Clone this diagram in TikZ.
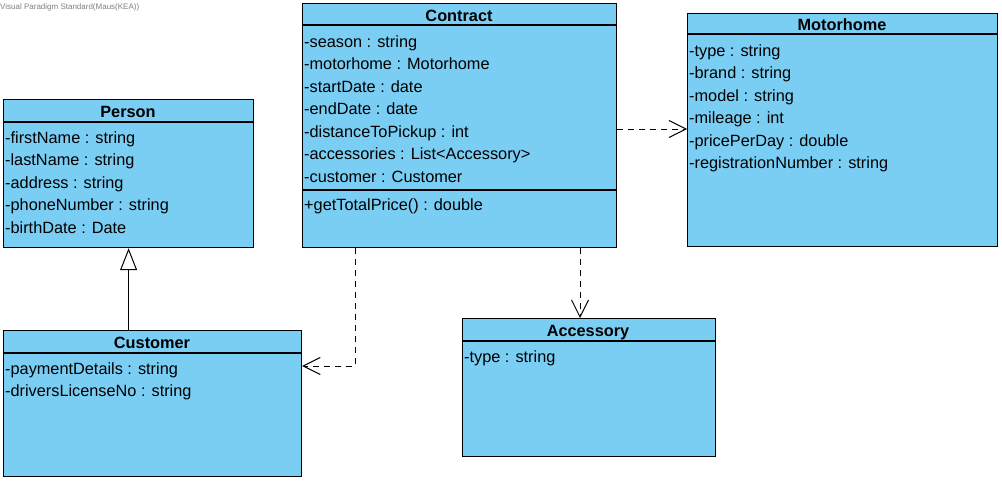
\documentclass[tikz,border=0pt]{standalone}
\usepackage{fontspec}
\setmainfont{Liberation Sans}
\usetikzlibrary{arrows.meta,calc}
\definecolor{clsfill}{RGB}{122,206,244}
\definecolor{wmgray}{RGB}{128,128,128}
\tikzset{
  cls/.style={draw=black, fill=clsfill, line width=1.2pt, rectangle, anchor=north west, inner sep=0pt},
  ctitle/.style={font=\fontsize{16.3pt}{18pt}\selectfont\bfseries, inner sep=0pt, anchor=base},
  attr/.style={font=\fontsize{16.3pt}{18pt}\selectfont, anchor=base west, inner sep=0pt},
  sepline/.style={line width=1.2pt},
  dep/.style={line width=1pt, dash pattern=on 6pt off 5pt, -{Straight Barb[length=17pt,width=17pt,line width=1pt]}},
  inh/.style={line width=1pt, -{Triangle[open,length=22pt,width=17pt,line width=1pt]}},
}
\begin{document}
\begin{tikzpicture}[x=1pt,y=-1pt]
\useasboundingbox (0,0) rectangle (1002,482);
\node[font=\fontsize{8pt}{9pt}\selectfont, text=wmgray, anchor=west, inner sep=0pt] (wm) at (0,7) {Visual Paradigm Standard(Maus(KEA))};

% Person
\node[cls, minimum width=250pt, minimum height=148pt] (person) at (3,99) {};
\draw[sepline] ($(person.north west)+(0,23)$) -- ($(person.north east)+(0,23)$);
\node[ctitle] (personT) at (128,117) {Person};
\node[attr] (p1) at (5,143) {-firstName : string};
\node[attr] (p2) at (5,165.5) {-lastName : string};
\node[attr] (p3) at (5,188) {-address : string};
\node[attr] (p4) at (5,210.5) {-phoneNumber : string};
\node[attr] (p5) at (5,233) {-birthDate : Date};

% Contract
\node[cls, minimum width=314pt, minimum height=244pt] (contract) at (302,3) {};
\draw[sepline] ($(contract.north west)+(0,22)$) -- ($(contract.north east)+(0,22)$);
\draw[sepline] ($(contract.north west)+(0,187)$) -- ($(contract.north east)+(0,187)$);
\node[ctitle] (contractT) at (459,21) {Contract};
\node[attr] (c1) at (304,47) {-season : string};
\node[attr] (c2) at (304,69.5) {-motorhome : Motorhome};
\node[attr] (c3) at (304,92) {-startDate : date};
\node[attr] (c4) at (304,114.5) {-endDate : date};
\node[attr] (c5) at (304,137) {-distanceToPickup : int};
\node[attr] (c6) at (304,159.5) {-accessories : List<Accessory>};
\node[attr] (c7) at (304,182) {-customer : Customer};
\node[attr] (c8) at (304,210) {+getTotalPrice() : double};

% Motorhome
\node[cls, minimum width=310pt, minimum height=233pt] (motorhome) at (687,13) {};
\draw[sepline] ($(motorhome.north west)+(0,21)$) -- ($(motorhome.north east)+(0,21)$);
\node[ctitle] (motorhomeT) at (842,30) {Motorhome};
\node[attr] (m1) at (689,56) {-type : string};
\node[attr] (m2) at (689,78.5) {-brand : string};
\node[attr] (m3) at (689,101) {-model : string};
\node[attr] (m4) at (689,123.5) {-mileage : int};
\node[attr] (m5) at (689,146) {-pricePerDay : double};
\node[attr] (m6) at (689,168.5) {-registrationNumber : string};

% Customer
\node[cls, minimum width=298pt, minimum height=146pt] (customer) at (3,330) {};
\draw[sepline] ($(customer.north west)+(0,23)$) -- ($(customer.north east)+(0,23)$);
\node[ctitle] (customerT) at (152,348) {Customer};
\node[attr] (u1) at (5,374) {-paymentDetails : string};
\node[attr] (u2) at (5,396.5) {-driversLicenseNo : string};

% Accessory
\node[cls, minimum width=253pt, minimum height=138pt] (accessory) at (462,318) {};
\draw[sepline] ($(accessory.north west)+(0,23)$) -- ($(accessory.north east)+(0,23)$);
\node[ctitle] (accessoryT) at (588,336) {Accessory};
\node[attr] (a1) at (464,362) {-type : string};

% Connectors
\draw[inh] (customer.north -| person.south) -- (person.south);
\draw[dep] (contract.east |- 0,129) -- (motorhome.west |- 0,129);
\draw[dep] (contract.south -| 580,0) -- (accessory.north -| 580,0);
\coordinate (bend) at (355,366);
\draw[dep] (contract.south -| bend) -- (bend) -- (customer.east |- bend);
\end{tikzpicture}
\end{document}
